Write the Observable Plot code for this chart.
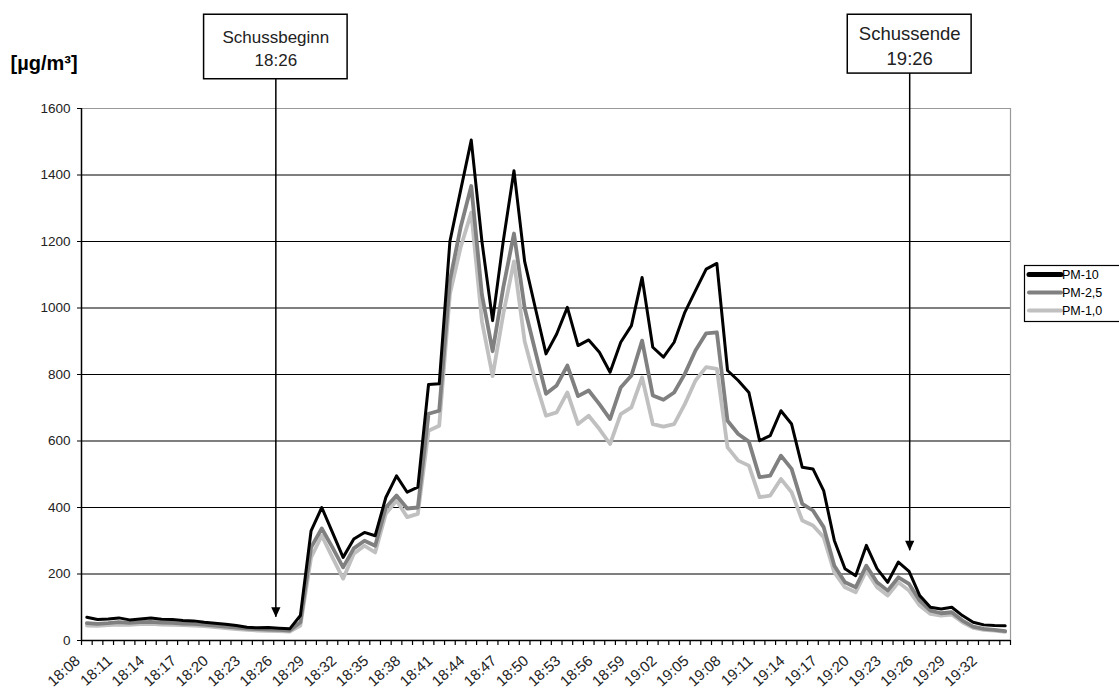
<!DOCTYPE html>
<html><head><meta charset="utf-8">
<script src="https://cdn.jsdelivr.net/npm/d3@7"></script>
<script src="https://cdn.jsdelivr.net/npm/@observablehq/plot@0.6"></script>
<style>
html,body{margin:0;padding:0;background:#fff;}
#chart{position:relative;width:1119px;height:689px;overflow:hidden;}
</style></head><body><div id="chart"></div>
<script>
const times = ["18:08","18:09","18:10","18:11","18:12","18:13","18:14","18:15","18:16","18:17",
"18:18","18:19","18:20","18:21","18:22","18:23","18:24","18:25","18:26","18:27",
"18:28","18:29","18:30","18:31","18:32","18:33","18:34","18:35","18:36","18:37",
"18:38","18:39","18:40","18:41","18:42","18:43","18:44","18:45","18:46","18:47",
"18:48","18:49","18:50","18:51","18:52","18:53","18:54","18:55","18:56","18:57",
"18:58","18:59","19:00","19:01","19:02","19:03","19:04","19:05","19:06","19:07",
"19:08","19:09","19:10","19:11","19:12","19:13","19:14","19:15","19:16","19:17",
"19:18","19:19","19:20","19:21","19:22","19:23","19:24","19:25","19:26","19:27",
"19:28","19:29","19:30","19:31","19:32","19:33","19:34"];

const pm10 = [70,63,65,68,62,65,68,64,63,60, 59,55,52,49,45,40,38,39,37,35,
75,330,400,325,250,305,325,315,430,495, 446,461,770,772,1200,1353,1505,1200,962,1202,
1413,1140,1000,862,922,1002,887,904,867,807, 897,947,1092,882,852,897,987,1052,1117,1134,
812,782,746,601,616,691,651,521,516,451, 301,216,195,286,216,175,236,208,135,100,
95,100,75,55,47,45,44];

const pm25 = [52,50,52,55,53,55,56,54,53,51, 50,48,45,42,39,36,34,33,32,30,
55,280,337,280,220,277,300,285,400,436, 397,400,682,691,1082,1242,1367,1040,870,1062,
1224,1000,870,742,767,827,735,752,711,666, 761,797,902,737,724,746,802,872,924,927,
661,621,598,491,496,556,516,411,391,341, 225,175,160,225,175,150,190,170,120,90,
82,85,60,42,35,32,28];

const pm1 = [45,44,46,48,47,49,50,48,47,46, 45,43,40,37,34,32,30,29,28,27,
45,250,315,250,186,261,285,265,381,421, 371,381,631,646,1042,1182,1287,960,795,982,
1140,900,780,676,686,746,651,676,636,591, 681,701,791,651,643,651,711,782,822,817,
581,541,526,431,436,486,446,361,346,311, 205,160,145,210,160,135,175,150,105,80,
75,78,55,38,32,30,26];

const seriesNames = ["PM-10","PM-2,5","PM-1,0"];
const yTicks = [0,200,400,600,800,1000,1200,1400,1600];
const xLabels = ["18:08","18:11","18:14","18:17","18:20","18:23","18:26","18:29","18:32","18:35",
"18:38","18:41","18:44","18:47","18:50","18:53","18:56","18:59","19:02","19:05",
"19:08","19:11","19:14","19:17","19:20","19:23","19:26","19:29","19:32"];
const yUnit = "[µg/m³]";
const annotLabels = ["Schussbeginn","Schussende"];
const annotTimes = ["18:26","19:26"];

// ---- layout / style (not data) ----
const colors = {"PM-10":"#000000","PM-2,5":"#808080","PM-1,0":"#c0c0c0"};
const widths = {"PM-10":3,"PM-2,5":3.8,"PM-1,0":3.8};
const annotLayout = {
  "Schussbeginn": {dx:-0.3, half:6.72, bottom:1688, tip:70, fs:17},
  "Schussende":   {dx:-0.94, half:5.8, bottom:1705, tip:270, fs:18.5}
};
const boxTop = 1882;

const idx = t => times.indexOf(t);
const seriesValues = {"PM-10":pm10,"PM-2,5":pm25,"PM-1,0":pm1};
const rows = seriesNames.flatMap(s => times.map((t,i)=>({i, t, v: seriesValues[s][i], s})));
const annots = annotLabels.map((l,k)=>({label:l, time:annotTimes[k], text:l+"\n"+annotTimes[k]}));
const ax = d => idx(d.time) + annotLayout[d.label].dx;

const arrowHead = {draw(ctx){ ctx.moveTo(-4.6,-10); ctx.lineTo(4.6,-10); ctx.lineTo(0,0); ctx.closePath(); }};

const drawOrder = ["PM-1,0","PM-2,5","PM-10"];

const plot = Plot.plot({
  width:1119, height:689,
  marginLeft:81, marginRight:109, marginTop:108, marginBottom:49,
  style:{fontFamily:"'Liberation Sans', Arial, sans-serif", fontSize:"13px", background:"#fff", color:"#000", overflow:"visible"},
  x:{type:"linear", domain:[-0.5, times.length-0.5]},
  y:{domain:[0,1600]},
  marks:[
    Plot.ruleY(yTicks.filter(v=>v>0 && v<1600), {stroke:"#000", strokeWidth:1.2}),
    Plot.ruleY([1600], {stroke:"#999", strokeWidth:1.2}),
    Plot.ruleX([times.length-0.5], {y1:0, y2:1600, stroke:"#999", strokeWidth:1.2}),
    Plot.axisY(yTicks, {tickSize:4, tickPadding:7, label:null, fontSize:13.5, tickFormat:d=>String(d), fill:"#222"}),
    Plot.ruleX([-0.5], {y1:0, y2:1600, stroke:"#000", strokeWidth:1.5}),
    Plot.axisX(d3.range(-0.5, times.length, 1), {tickSize:5, tickFormat:()=>"", label:null, strokeWidth:1.2}),
    Plot.axisX(xLabels.map(idx), {tickSize:0, tickRotate:-42, tickPadding:12, dx:-9, dy:6, tickFormat:i=>times[i], label:null, fontSize:15, fill:"#222"}),
    ...drawOrder.map(s => Plot.line(rows.filter(d=>d.s===s), {x:"i", y:"v", stroke:colors[s], strokeWidth:widths[s], strokeLinejoin:"round", strokeLinecap:"round"})),
    Plot.ruleY([0], {stroke:"#000", strokeWidth:1.5}),
    Plot.ruleX(annots, {x:ax, y1:d=>annotLayout[d.label].tip, y2:d=>annotLayout[d.label].bottom, stroke:"#000", strokeWidth:1.5}),
    Plot.dot(annots, {x:ax, y:d=>annotLayout[d.label].tip, symbol:arrowHead, r:4, fill:"#000", stroke:"none"}),
    Plot.rect(annots, {x1:d=>ax(d)-annotLayout[d.label].half, x2:d=>ax(d)+annotLayout[d.label].half, y1:d=>annotLayout[d.label].bottom, y2:boxTop, fill:"#fff", stroke:"#000", strokeWidth:1.5}),
    ...annots.map(a => Plot.text([a], {x:ax, y:d=>(annotLayout[d.label].bottom+boxTop)/2, text:"text", fontSize:annotLayout[a.label].fs, lineHeight:1.38, fill:"#222"})),
    Plot.text([yUnit], {frameAnchor:"top-left", text:d=>d, textAnchor:"start", lineAnchor:"top", dx:-71, dy:-53, fontWeight:"bold", fontSize:20})
  ]
});

document.getElementById("chart").appendChild(plot);

// legend (outside the plot frame, right side)
const svg = d3.select(plot);
const lg = svg.append("g").attr("font-family","'Liberation Sans', Arial, sans-serif").attr("font-size",12.5).attr("text-anchor","start");
lg.append("rect").attr("x",1024.5).attr("y",265.5).attr("width",130).attr("height",56)
  .attr("fill","#fff").attr("stroke","#000").attr("stroke-width",1.2);
seriesNames.forEach((s,k)=>{
  const y = 274.5 + k*18;
  lg.append("line").attr("x1",1029).attr("x2",1061).attr("y1",y).attr("y2",y)
    .attr("stroke",colors[s]).attr("stroke-width", s==="PM-10"?5:4).attr("stroke-linecap","round");
  lg.append("text").attr("x",1062).attr("y",y).attr("dy","0.35em").attr("text-anchor","start").attr("fill","#000").text(s);
});
</script>
</body></html>
